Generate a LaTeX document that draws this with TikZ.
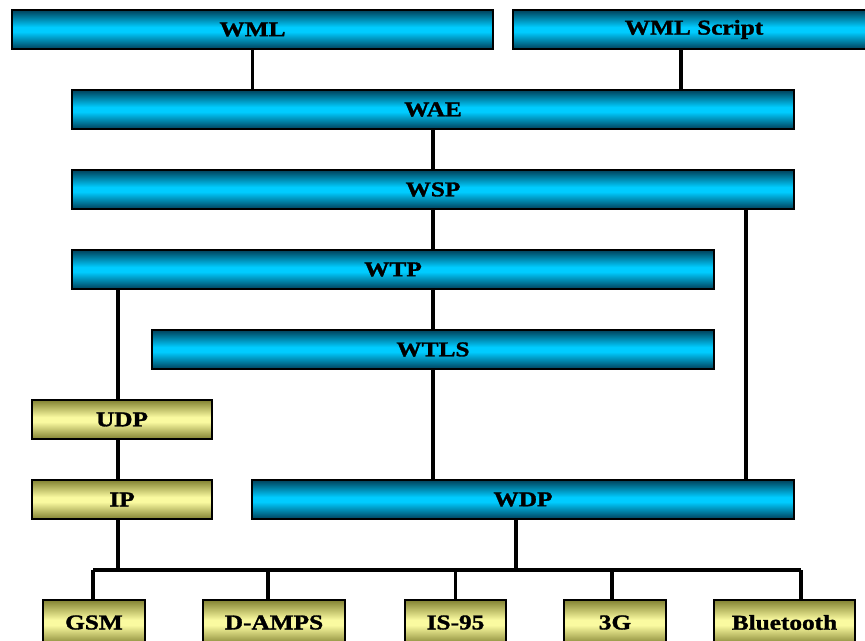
\documentclass[tikz,border=0pt]{standalone}
\usepackage{fontspec}
\setmainfont{Liberation Serif}[FakeStretch=1.2, BoldFeatures={FakeBold=1.5}]
\usetikzlibrary{calc}
\definecolor{ink}{RGB}{0,0,0}
\definecolor{cyandark}{RGB}{0,65,90}
\definecolor{cyanlite}{RGB}{0,204,255}
\definecolor{olivedark}{RGB}{130,130,50}
\definecolor{olivelite}{RGB}{250,250,160}
\pgfdeclareverticalshading{cyanbar}{100bp}{color(0bp)=(cyandark); color(25bp)=(cyandark); color(47bp)=(cyanlite); color(53bp)=(cyanlite); color(75bp)=(cyandark); color(100bp)=(cyandark)}
\pgfdeclareverticalshading{olivebar}{100bp}{color(0bp)=(olivedark); color(25bp)=(olivedark); color(47bp)=(olivelite); color(53bp)=(olivelite); color(75bp)=(olivedark); color(100bp)=(olivedark)}
\tikzset{
  every picture/.style={x=0.02cm, y=-0.02cm, color=ink},
  layer/.style={draw=ink, line width=1.2pt, minimum height=0.78cm, inner sep=0pt,
    font=\fontsize{12}{14}\selectfont\bfseries},
  wap/.style={layer, shading=cyanbar},
  net/.style={layer, shading=olivebar},
  bearer/.style={net, minimum height=0.9cm},
  link/.style={line width=1.8pt},
}

\begin{document}
\begin{tikzpicture}
  \fill[white] (0,0) rectangle (865,641);
  \useasboundingbox (0,0) rectangle (865,641);
  % WAP stack
  \node[wap, minimum width=9.62cm] (wml) at (252.5,29.5) {WML};
  \node[wap, minimum width=7.24cm] (wmls) at (694,29.5) {WML Script};
  \node[wap, minimum width=14.44cm] (wae) at (433,109.5) {WAE};
  \node[wap, minimum width=14.44cm] (wsp) at (433,189.5) {WSP};
  \node[wap, minimum width=12.84cm] (wtp) at (393,269.5) {WTP};
  \node[wap, minimum width=11.24cm] (wtls) at (433,349.5) {WTLS};
  \node[wap, minimum width=10.84cm] (wdp) at (523,499.5) {WDP};
  % IP route
  \node[net, minimum width=3.6cm] (udp) at (122,419.5) {UDP};
  \node[net, minimum width=3.6cm] (ip) at (122,499.5) {IP};
  % bearers
  \node[bearer, minimum width=2.04cm] (gsm) at (94,622.5) {GSM};
  \node[bearer, minimum width=2.84cm] (damps) at (274,622.5) {D-AMPS};
  \node[bearer, minimum width=2.02cm] (is95) at (455.5,622.5) {IS-95};
  \node[bearer, minimum width=2.04cm] (g3) at (615,622.5) {3G};
  \node[bearer, minimum width=2.82cm] (bt) at (784.5,622.5) {Bluetooth};

  \draw[link] (wml.south) -- (wml.south |- wae.north);
  \draw[link] ($(wmls.south)+(-13,0)$) -- ($(wmls.south |- wae.north)+(-13,0)$);
  \draw[link] (wtls.north |- wae.south) -- (wtls.north |- wsp.north);
  \draw[link] (wtls.north |- wsp.south) -- (wtls.north |- wtp.north);
  \draw[link] (wtls.north |- wtp.south) -- (wtls.north);
  \draw[link] (wtls.south) -- (wtls.south |- wdp.north);
  \draw[link] ($(wsp.south)+(313,0)$) -- ($(wsp.south |- wdp.north)+(313,0)$);
  \draw[link] ($(udp.north |- wtp.south)+(-4,0)$) -- ($(udp.north)+(-4,0)$);
  \draw[link] ($(udp.south)+(-4,0)$) -- ($(ip.north)+(-4,0)$);
  % bus to the bearers
  \coordinate (busL) at (93,570);
  \coordinate (busR) at (801,570);
  \draw[link] (busL) -- (busR);
  \draw[link] ($(ip.south)+(-4,0)$) -- ($(ip.south |- busL)+(-4,0)$);
  \draw[link] ($(wdp.south)+(-7,0)$) -- ($(wdp.south |- busL)+(-7,0)$);
  \draw[link] (gsm.north -| busL) -- (busL);
  \draw[link] ($(damps.north)+(-6,0)$) -- ($(damps.north |- busL)+(-6,0)$);
  \draw[link] (is95.north) -- (is95.north |- busL);
  \draw[link] ($(g3.north)+(-3,0)$) -- ($(g3.north |- busL)+(-3,0)$);
  \draw[link] (bt.north -| busR) -- (busR);
\end{tikzpicture}
\end{document}
